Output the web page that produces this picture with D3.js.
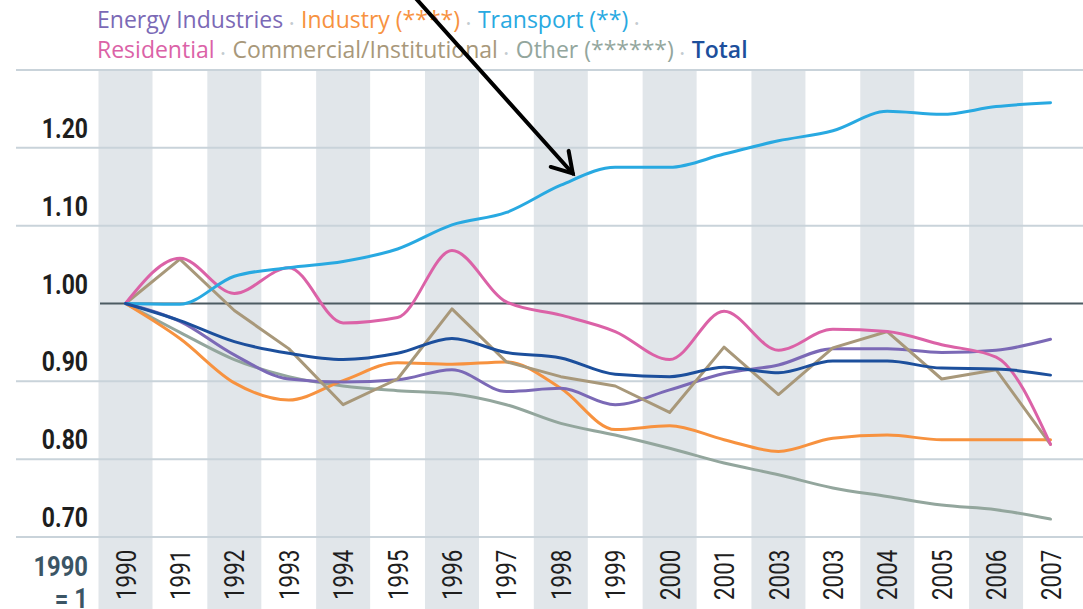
<!DOCTYPE html>
<html><head><meta charset="utf-8">
<script src="https://cdn.jsdelivr.net/npm/d3@7"></script>
<style>
html,body{margin:0;padding:0;background:#fff;overflow:hidden}
svg{display:block}
</style></head><body>
<svg id="chart" width="1083" height="609"></svg>
<script>
// ---- data ----
const years = [1990,1991,1992,1993,1994,1995,1996,1997,1998,1999,2000,2001,2002,2003,2004,2005,2006,2007];
const yearLabels = ["1990","1991","1992","1993","1994","1995","1996","1997","1998","1999","2000","2001","2003","2003","2004","2005","2006","2007"];
const yTicks = [0.70,0.80,0.90,1.00,1.10,1.20];
const yTickLabels = ["0.70","0.80","0.90","1.00","1.10","1.20"];

const energyIndustries = [1.000,0.977,0.934,0.903,0.899,0.902,0.915,0.887,0.891,0.870,0.889,0.910,0.921,0.942,0.942,0.937,0.940,0.954];
const industry        = [1.000,0.955,0.898,0.876,0.901,0.924,0.922,0.925,0.891,0.838,0.843,0.825,0.810,0.827,0.831,0.825,0.825,0.825];
const transport       = [1.000,0.999,1.035,1.046,1.054,1.070,1.101,1.117,1.152,1.175,1.175,1.192,1.209,1.222,1.247,1.243,1.253,1.258];
const residential     = [1.000,1.058,1.013,1.046,0.975,0.982,1.068,1.002,0.985,0.964,0.928,0.990,0.940,0.967,0.964,0.947,0.931,0.819];
const commercial      = [1.000,1.057,0.991,0.942,0.870,0.903,0.993,0.925,0.906,0.894,0.860,0.944,0.883,0.943,0.964,0.903,0.915,0.819];
const other           = [1.000,0.963,0.928,0.906,0.894,0.888,0.884,0.870,0.846,0.831,0.814,0.795,0.780,0.763,0.752,0.741,0.735,0.723];
const total           = [1.000,0.978,0.951,0.936,0.928,0.936,0.955,0.937,0.930,0.909,0.906,0.918,0.911,0.926,0.926,0.917,0.916,0.908];

const legendLine1 = ["Energy Industries","Industry (****)","Transport (**)"];
const legendLine2 = ["Residential","Commercial/Institutional","Other (******)","Total"];
const baseLabel = ["1990","= 1"];
const arrowTip = {year:1998.22, value:1.167};

// ---- styles ----
const colors = {
  energy:"#7b69b6", industry:"#f7923f", transport:"#28a9e1",
  residential:"#db62a7", commercial:"#a8987a", other:"#93a69d", total:"#1c4f9c"
};
const series = [
  {key:"other", values:other, curve:d3.curveMonotoneX},
  {key:"industry", values:industry, curve:d3.curveMonotoneX},
  {key:"energy", values:energyIndustries, curve:d3.curveMonotoneX},
  {key:"commercial", values:commercial, curve:d3.curveLinear},
  {key:"residential", values:residential, curve:d3.curveMonotoneX},
  {key:"transport", values:transport, curve:d3.curveMonotoneX},
  {key:"total", values:total, curve:d3.curveMonotoneX}
];
const legendColors1 = [colors.energy, colors.industry, colors.transport];
const legendColors2 = [colors.residential, colors.commercial, colors.other, colors.total];

const W = 1083, H = 609;
const svg = d3.select("#chart");
const x = d3.scaleLinear().domain([1990,2007]).range([125.5,1050.5]);
const y = d3.scaleLinear().domain([0.7,1.3]).range([537,70]);
const axisFont = "Roboto, 'Open Sans', sans-serif";

// stripes
svg.append("g").selectAll("rect")
  .data(years.filter((d,i)=>i%2===0))
  .join("rect")
  .attr("x", d=>x(d)-27).attr("width",54)
  .attr("y", y(1.3)).attr("height", H - y(1.3))
  .attr("fill","#e1e6ea");

// gridlines
const grid = [0.7,0.8,0.9,1.1,1.2,1.3];
svg.append("g").selectAll("line").data(grid).join("line")
  .attr("x1",16).attr("x2",W)
  .attr("y1",d=>y(d)).attr("y2",d=>y(d))
  .attr("stroke","#c9d3da").attr("stroke-width",2);
svg.append("line").attr("x1",100).attr("x2",W)
  .attr("y1",y(1)).attr("y2",y(1))
  .attr("stroke","#4c5b62").attr("stroke-width",2);

// y labels
svg.append("g").selectAll("text").data(yTicks).join("text")
  .attr("transform",d=>`translate(88,${y(d)-10}) scale(0.85,1)`)
  .attr("text-anchor","end")
  .attr("font-family",axisFont).attr("font-weight","bold")
  .attr("font-size",27).attr("fill","#1e1e1e")
  .text((d,i)=>yTickLabels[i]);

// "1990 = 1"
svg.append("g").selectAll("text").data(baseLabel).join("text")
  .attr("transform",(d,i)=>`translate(88,${576+i*32}) scale(0.85,1)`)
  .attr("text-anchor","end")
  .attr("font-family",axisFont).attr("font-weight","bold")
  .attr("font-size",28).attr("fill","#3b5565")
  .text(d=>d);

// x labels
svg.append("g").selectAll("text").data(years).join("text")
  .attr("transform",d=>`translate(${x(d)},600) rotate(-90) scale(0.8,1)`)
  .attr("dy","0.36em")
  .attr("font-family",axisFont).attr("font-size",28).attr("fill","#1e1e1e")
  .text((d,i)=>yearLabels[i]);

// lines
const line = d3.line().x((d,i)=>x(years[i])).y(d=>y(d));
svg.append("g").selectAll("path").data(series).join("path")
  .attr("d",s=>line.curve(s.curve)(s.values))
  .attr("fill","none").attr("stroke",s=>colors[s.key])
  .attr("stroke-width",3).attr("stroke-linejoin","round").attr("stroke-linecap","round");

// legend
function legendLine(items, cols, yy, trailing){
  const fs = 23;
  const t = svg.append("text").attr("x",97).attr("y",yy)
    .attr("font-family","'Open Sans',sans-serif").attr("font-size",fs);
  items.forEach((s,i)=>{
    t.append("tspan").attr("fill",cols[i]).attr("dx", i===0?0:7)
      .attr("font-weight", s==="Total" ? 600 : 400).text(s);
    if(i<items.length-1 || trailing)
      t.append("tspan").attr("fill","#c3cbd0").attr("font-size",13).attr("dx",6).text("•");
  });
}
legendLine(legendLine1, legendColors1, 28, true);
legendLine(legendLine2, legendColors2, 58, false);

// arrow annotation
const tx = x(arrowTip.year), ty = y(arrowTip.value);
const ang = Math.atan2(173,155);
const len = 240;
const g = svg.append("g").attr("stroke","#000").attr("stroke-width",4).attr("fill","none")
  .attr("stroke-linecap","round");
g.append("line").attr("x1",tx-len*Math.cos(ang)).attr("y1",ty-len*Math.sin(ang))
  .attr("x2",tx).attr("y2",ty);
const bl = 23, spread = 0.55;
g.append("path").attr("d",
  `M${tx-bl*Math.cos(ang-spread)},${ty-bl*Math.sin(ang-spread)} L${tx},${ty} L${tx-bl*Math.cos(ang+spread)},${ty-bl*Math.sin(ang+spread)}`)
  .attr("stroke-linejoin","miter");
</script>
</body></html>
